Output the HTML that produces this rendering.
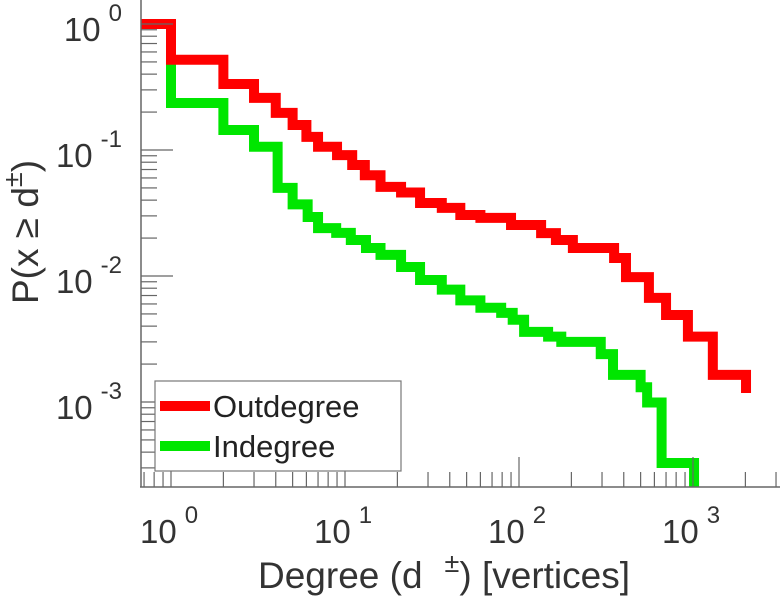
<!DOCTYPE html>
<html><head><meta charset="utf-8"><style>
body{margin:0;background:#fff;}
svg{display:block;font-family:"Liberation Sans",sans-serif;}
</style></head><body>
<svg id="c" width="784" height="600">
<defs><clipPath id="pc"><rect x="141" y="0" width="640" height="487"/></clipPath></defs>
<g id="series" clip-path="url(#pc)"></g>
<g id="axes"></g>
</svg>
<script>
const outDeg=[1,2,3,4,5,6,7,9,11,13,16,21,27,36,46,60,90,134,163,204,352,412,558,700,935,1300];
const outP=[0.52,0.334,0.259,0.197,0.158,0.127,0.106,0.091,0.076,0.063,0.051,0.046,0.038,0.0347,0.0305,0.0289,0.0254,0.0219,0.0193,0.0167,0.0139,0.0098,0.0067,0.0049,0.0033,0.00164];
const outEnd=[2017,0.00118];
const inDeg=[1,2,3,4.1,5,6.1,7,8.9,10.8,13.2,16,21,27,36,46,60,79,92,107,147,175,295,347,500,545,660];
const inP=[0.236,0.144,0.106,0.050,0.037,0.0294,0.024,0.022,0.0193,0.0167,0.0147,0.0118,0.0093,0.0078,0.0064,0.0056,0.0051,0.0045,0.0036,0.0033,0.0030,0.0024,0.00164,0.00131,0.00099,0.000328];
const inEnd=[1014,0.0001];
const xTicks=[0,1,2,3];
const yTicks=[0,-1,-2,-3];
const NS='http://www.w3.org/2000/svg';
const X=d=>171+174*Math.log10(d);
const Y=p=>24-126*Math.log10(p);
function mk(t,a,parent){const e=document.createElementNS(NS,t);for(const k in a)e.setAttribute(k,a[k]);parent.appendChild(e);return e;}
const S=document.getElementById('series'),A=document.getElementById('axes');
function step(deg,P,end,color,name){
  let d='M'+X(0.5)+','+Y(1)+' L'+X(deg[0])+','+Y(1);
  for(let i=0;i<deg.length;i++){d+=' L'+X(deg[i])+','+Y(P[i]);const nx=i+1<deg.length?deg[i+1]:end[0];d+=' L'+X(nx)+','+Y(P[i]);}
  d+=' L'+X(end[0])+','+Y(end[1]);
  const p=mk('path',{d:d,fill:'none',stroke:color,'stroke-width':10,'stroke-linejoin':'miter','stroke-linecap':'butt'},S);
  
  
}
step(inDeg,inP,inEnd,'#00e600','indegree-line');
step(outDeg,outP,outEnd,'#ff0000','outdegree-line');
mk('line',{x1:141,y1:0,x2:141,y2:487,stroke:'#666','stroke-width':1.5},A);
mk('line',{x1:140,y1:487,x2:780,y2:487,stroke:'#666','stroke-width':1.5},A);
for(let e=-1;e<=3;e++){for(let m=1;m<10;m++){const x=X(m*Math.pow(10,e));if(x<142||x>780)continue;
  const t=mk('line',{x1:x,y1:487,x2:x,y2:487-(m==1?30:15),stroke:'#666','stroke-width':1.2},A);
  }}
for(let e=-4;e<=0;e++){for(let m=1;m<10;m++){const y=Y(m*Math.pow(10,e));if(y<0||y>487)continue;
  const t=mk('line',{x1:141,y1:y,x2:141+(m==1?32:16),y2:y,stroke:'#666','stroke-width':1.2},A);
  }}
xTicks.forEach(e=>{const t=mk('text',{x:X(Math.pow(10,e))-31,y:543,'font-size':33,fill:'#333'},A);
  
  t.innerHTML='10<tspan dx="8" dy="-20" font-size="24">'+e+'</tspan>';});
yTicks.forEach(e=>{const t=mk('text',{x:122,y:Y(Math.pow(10,e))+17,'font-size':33,fill:'#333','text-anchor':'end'},A);
  
  t.innerHTML='10<tspan dx="8" dy="-20" font-size="24">'+(e==0?'0':'-'+(-e))+'</tspan>';});
const xt=mk('text',{x:258,y:588,'font-size':37,fill:'#333'},A);

xt.innerHTML='Degree (d<tspan dx="22" dy="-16" font-size="27">±</tspan><tspan dy="16">) [vertices]</tspan>';
const yt=mk('text',{x:0,y:0,'font-size':37,fill:'#333','text-anchor':'middle',transform:'translate(38,232) rotate(-90)'},A);

yt.innerHTML='P(x ≥ d<tspan dy="-16" font-size="27">±</tspan><tspan dy="16">)</tspan>';
const L=mk('g',{},A);
mk('rect',{x:155,y:381,width:246,height:90,fill:'#fff',stroke:'#777','stroke-width':1.2},L);
mk('line',{x1:160,y1:406,x2:210,y2:406,stroke:'#ff0000','stroke-width':10},L);
mk('line',{x1:160,y1:446,x2:210,y2:446,stroke:'#00e600','stroke-width':10},L);
const l1=mk('text',{x:213,y:417,'font-size':31,fill:'#222'},L);l1.textContent='Outdegree';

const l2=mk('text',{x:213,y:457,'font-size':31,fill:'#222'},L);l2.textContent='Indegree';

</script>
</body></html>
